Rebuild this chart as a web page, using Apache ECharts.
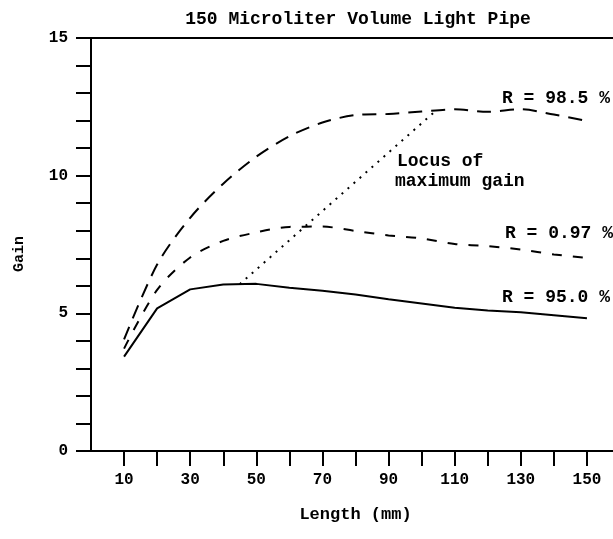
<!DOCTYPE html>
<html>
<head>
<meta charset="utf-8">
<script src="https://cdn.jsdelivr.net/npm/echarts@6/dist/echarts.min.js"></script>
<style>
  html, body { margin: 0; padding: 0; background: #fff; }
  #chart { width: 613px; height: 539px; }
</style>
</head>
<body>
<div id="chart"></div>
<script>
// lengths (mm)
const lengths = [10, 20, 30, 40, 50, 60, 70, 80, 90, 100, 110, 120, 130, 140, 150]
// gain per reflectivity
const gain985 = [4.05, 6.77, 8.47, 9.71, 10.69, 11.43, 11.93, 12.2, 12.24, 12.33, 12.41, 12.32, 12.41, 12.22, 11.99]
const gain097 = [3.72, 5.85, 7.03, 7.63, 7.94, 8.14, 8.15, 7.99, 7.83, 7.72, 7.52, 7.44, 7.32, 7.14, 7.01]
const gain950 = [3.43, 5.18, 5.87, 6.05, 6.07, 5.93, 5.82, 5.68, 5.51, 5.36, 5.2, 5.1, 5.04, 4.93, 4.82]
// locus of maximum gain
const locusX = [45, 104.5]
const locusY = [6.06, 12.38]

const xTicks = [10, 20, 30, 40, 50, 60, 70, 80, 90, 100, 110, 120, 130, 140, 150]
const xLabels = [10, 30, 50, 70, 90, 110, 130, 150]
const yTicks = [0, 1, 2, 3, 4, 5, 6, 7, 8, 9, 10, 11, 12, 13, 14, 15]
const yLabels = [0, 5, 10, 15]

const mono = '"Liberation Mono", "DejaVu Sans Mono", monospace'

const pairs = (xs, ys) => xs.map((x, i) => [x, ys[i]])

const chart = echarts.init(document.getElementById('chart'))

const label = (text, left, y) => ({
  type: 'text',
  left: left,
  top: y - 9,
  style: { text: text, font: 'bold 18px ' + mono, fill: '#000' }
})

const option = {
  backgroundColor: '#fff',
  animation: false,
  title: {
    text: '150 Microliter Volume Light Pipe',
    left: 353,
    textAlign: 'center',
    top: 5,
    textStyle: { fontFamily: mono, fontSize: 18, fontWeight: 'bold', color: '#000' }
  },
  grid: {
    left: 91,
    top: 38,
    width: 529,
    bottom: 88,
    outerBoundsMode: 'none',
    containLabel: false,
    show: true,
    borderColor: '#000',
    borderWidth: 2
  },
  xAxis: {
    type: 'value',
    min: 0,
    max: 160,
    interval: 10,
    name: 'Length (mm)',
    nameLocation: 'middle',
    nameGap: 55,
    nameTextStyle: { fontFamily: mono, fontSize: 17, fontWeight: 'bold', color: '#000' },
    splitLine: { show: false },
    axisLine: { lineStyle: { color: '#000', width: 2 } },
    axisTick: { customValues: xTicks, length: 15, lineStyle: { color: '#000', width: 2 } },
    axisLabel: { customValues: xLabels, margin: 21, fontFamily: mono, fontSize: 16, fontWeight: 'bold', color: '#000' }
  },
  yAxis: {
    type: 'value',
    min: 0,
    max: 15,
    interval: 1,
    splitLine: { show: false },
    axisLine: { lineStyle: { color: '#000', width: 2 } },
    axisTick: { customValues: yTicks, length: 15, lineStyle: { color: '#000', width: 2 } },
    axisLabel: { customValues: yLabels, margin: 23, fontFamily: mono, fontSize: 16, fontWeight: 'bold', color: '#000' }
  },
  series: [
    {
      name: 'R = 98.5 %',
      type: 'line',
      data: pairs(lengths, gain985),
      smooth: 0.3,
      symbol: 'none',
      lineStyle: { color: '#000', width: 2, type: [14, 9] }
    },
    {
      name: 'R = 0.97 %',
      type: 'line',
      data: pairs(lengths, gain097),
      smooth: 0.3,
      symbol: 'none',
      lineStyle: { color: '#000', width: 2, type: [10, 11] }
    },
    {
      name: 'R = 95.0 %',
      type: 'line',
      data: pairs(lengths, gain950),
      symbol: 'none',
      lineStyle: { color: '#000', width: 2 }
    },
    {
      name: 'Locus',
      type: 'line',
      data: pairs(locusX, locusY),
      symbol: 'none',
      lineStyle: { color: '#000', width: 2, type: [2, 6] }
    }
  ],
  graphic: [
    label('R = 98.5 %', 502, 98),
    label('R = 0.97 %', 505, 233),
    label('R = 95.0 %', 502, 297),
    label('Locus of', 397, 161),
    label('maximum gain', 395, 181),
    {
      type: 'text',
      x: 12,
      y: 272,
      rotation: Math.PI / 2,
      style: { text: 'Gain', font: 'bold 15px ' + mono, fill: '#000' }
    }
  ]
}

chart.setOption(option)
</script>
</body>
</html>
